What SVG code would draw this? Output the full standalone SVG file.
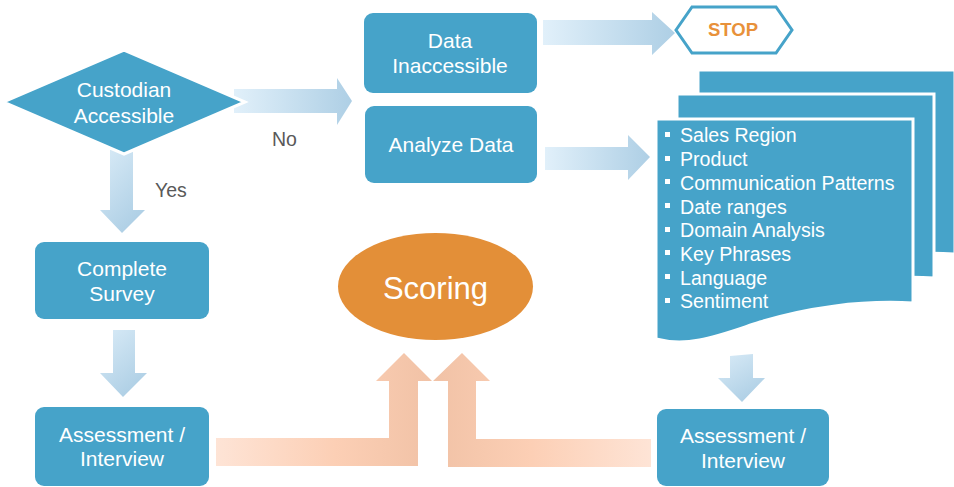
<svg xmlns="http://www.w3.org/2000/svg" width="954" height="487" viewBox="0 0 954 487">
  <style>
    .box { fill: #46a3c9; }
    .lbl { font-family: "Liberation Sans", Arial, sans-serif; font-size: 21px; fill: #ffffff; text-anchor: middle; }
    .note { font-family: "Liberation Sans", Arial, sans-serif; font-size: 19.5px; fill: #595959; }
    .item { font-family: "Liberation Sans", Arial, sans-serif; font-size: 19.6px; fill: #ffffff; }
    .doc { fill: #46a3c9; stroke: #ffffff; stroke-width: 3; }
  </style>
  <defs>
    <linearGradient id="blueH" x1="0" y1="0" x2="1" y2="0">
      <stop offset="0" stop-color="#e1f0fa"/>
      <stop offset="1" stop-color="#aecfe5"/>
    </linearGradient>
    <linearGradient id="blueV" x1="0" y1="0" x2="0.6" y2="1">
      <stop offset="0" stop-color="#d9ebf7"/>
      <stop offset="1" stop-color="#aecfe5"/>
    </linearGradient>
    <linearGradient id="peachL" gradientUnits="userSpaceOnUse" x1="216" y1="0" x2="432" y2="0">
      <stop offset="0" stop-color="#fee4d6"/>
      <stop offset="0.55" stop-color="#fccfb5"/>
      <stop offset="1" stop-color="#f1c2a6"/>
    </linearGradient>
    <linearGradient id="peachR" gradientUnits="userSpaceOnUse" x1="651" y1="0" x2="433" y2="0">
      <stop offset="0" stop-color="#fee4d6"/>
      <stop offset="0.55" stop-color="#fccfb5"/>
      <stop offset="1" stop-color="#f1c2a6"/>
    </linearGradient>
    <path id="docShape" d="M656,119 H913 V303 C860,300 805,308 760,322 C720,335 690,348 656,339 Z"/>
  </defs>

  <rect width="954" height="487" fill="#ffffff"/>

  <!-- block arrows between steps -->
  <g id="connectors">
    <path d="M234,89 H337 V78 L352,101 L337,125 V113 H234 Z" fill="url(#blueH)"/>
    <path d="M543,20 H652 V12 L675,33 L652,55 V45 H543 Z" fill="url(#blueH)"/>
    <path d="M545,147 H628 V135 L650,157 L628,180 V170 H545 Z" fill="url(#blueH)"/>
    <path d="M110,150 V210 H100 L122,233 L145,210 H133 V150 Z" fill="url(#blueV)"/>
    <path d="M113,330 V373 H100 L123,397 L147,373 H135 V330 Z" fill="url(#blueV)"/>
    <path d="M730,356 L753,354 V378 H765 L742,402 L718,378 H730 Z" fill="url(#blueV)"/>
    <path d="M216,438 H389 V381 H376 L404,353 L432,381 H418 V466 H216 Z" fill="url(#peachL)"/>
    <path d="M651,439 H476 V381 H490 L462,353 L433,381 H448 V467 H651 Z" fill="url(#peachR)"/>
    <text class="note" x="272" y="146">No</text>
    <text class="note" x="155" y="197">Yes</text>
  </g>

  <g id="custodian-accessible">
    <polygon points="3,102 124,50 245,102 124,154" fill="#46a3c9" stroke="#ffffff" stroke-width="3"/>
    <text class="lbl" x="124" y="97">Custodian</text>
    <text class="lbl" x="124" y="123">Accessible</text>
  </g>

  <g id="data-inaccessible">
    <rect class="box" x="364" y="13" width="173" height="80" rx="9"/>
    <text class="lbl" x="450" y="48">Data</text>
    <text class="lbl" x="450" y="73">Inaccessible</text>
  </g>

  <g id="analyze-data">
    <rect class="box" x="365" y="106" width="172" height="77" rx="9"/>
    <text class="lbl" x="451" y="152">Analyze Data</text>
  </g>

  <g id="stop">
    <polygon points="676,30 692,7 776,7 792,30 776,53 692,53" fill="#ffffff" stroke="#46a3c9" stroke-width="3"/>
    <text x="733" y="36" font-family="Liberation Sans, Arial, sans-serif" font-size="18.5" font-weight="bold" fill="#e8913a" text-anchor="middle">STOP</text>
  </g>

  <g id="analysis-factors">
    <use href="#docShape" class="doc" transform="translate(42,-49)"/>
    <use href="#docShape" class="doc" transform="translate(21,-25)"/>
    <use href="#docShape" class="doc"/>
    <g fill="#ffffff">
      <rect x="665" y="132" width="5" height="5"/>
      <rect x="665" y="156" width="5" height="5"/>
      <rect x="665" y="179" width="5" height="5"/>
      <rect x="665" y="203" width="5" height="5"/>
      <rect x="665" y="227" width="5" height="5"/>
      <rect x="665" y="250" width="5" height="5"/>
      <rect x="665" y="274" width="5" height="5"/>
      <rect x="665" y="298" width="5" height="5"/>
    </g>
    <text class="item" x="680" y="142">Sales Region</text>
    <text class="item" x="680" y="166">Product</text>
    <text class="item" x="680" y="190">Communication Patterns</text>
    <text class="item" x="680" y="214">Date ranges</text>
    <text class="item" x="680" y="237">Domain Analysis</text>
    <text class="item" x="680" y="261">Key Phrases</text>
    <text class="item" x="680" y="285">Language</text>
    <text class="item" x="680" y="308">Sentiment</text>
  </g>

  <g id="complete-survey">
    <rect class="box" x="35" y="242" width="174" height="77" rx="9"/>
    <text class="lbl" x="122" y="276">Complete</text>
    <text class="lbl" x="122" y="301">Survey</text>
  </g>

  <g id="assessment-left">
    <rect class="box" x="35" y="407" width="174" height="79" rx="9"/>
    <text class="lbl" x="122" y="442">Assessment /</text>
    <text class="lbl" x="122" y="466">Interview</text>
  </g>

  <g id="assessment-right">
    <rect class="box" x="657" y="409" width="172" height="77" rx="9"/>
    <text class="lbl" x="743" y="443">Assessment /</text>
    <text class="lbl" x="743" y="468">Interview</text>
  </g>

  <g id="scoring">
    <ellipse cx="435.5" cy="286.5" rx="97.5" ry="53.5" fill="#e38f38"/>
    <text x="435.5" y="299" font-family="Liberation Sans, Arial, sans-serif" font-size="31" fill="#ffffff" text-anchor="middle">Scoring</text>
  </g>
</svg>
